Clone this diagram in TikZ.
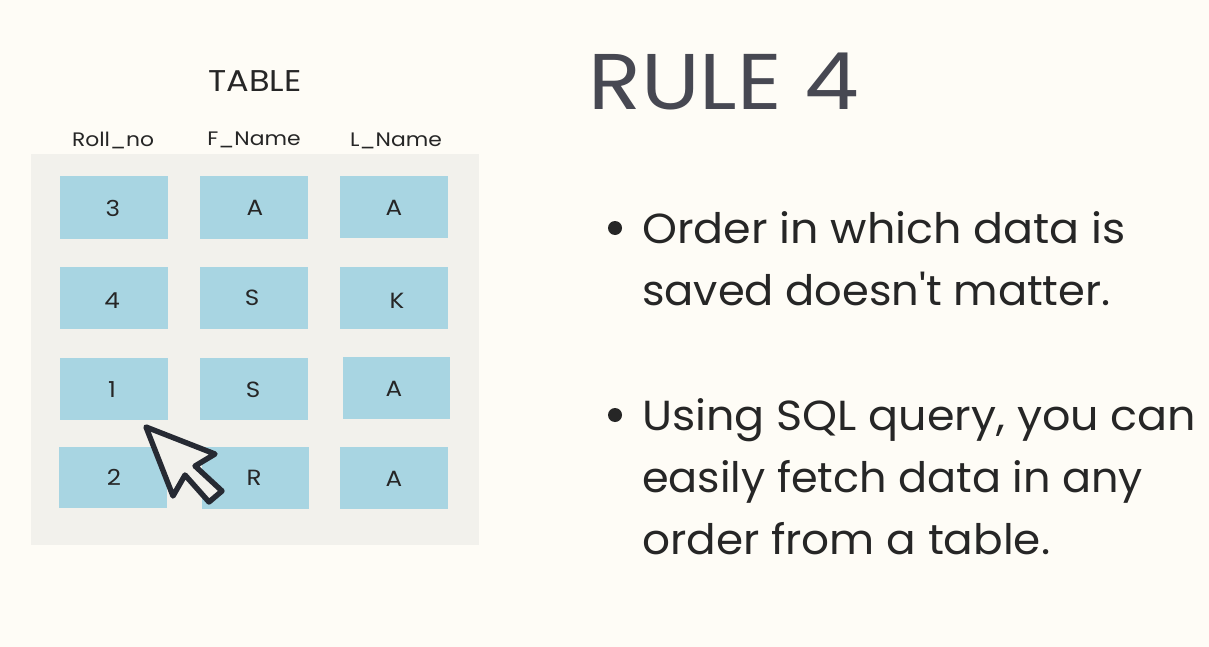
\documentclass[tikz,border=0pt]{standalone}
\usepackage{fontspec}
\setmainfont[Ligatures=TeXOff]{Poppins}
\newfontfamily\titlefont[Ligatures=TeXOff,FakeStretch=1.1]{Poppins}
\newfontfamily\bodyfont[Ligatures=TeXOff,FakeStretch=1.07]{Poppins}
\newfontfamily\headfont[Ligatures=TeXOff,FakeStretch=1.12]{Poppins}
\usetikzlibrary{arrows}
\definecolor{bgcream}{HTML}{FEFCF6}
\definecolor{panelgray}{HTML}{F2F1EC}
\definecolor{cellblue}{HTML}{A8D5E2}
\definecolor{titlegray}{HTML}{474852}
\definecolor{textdark}{HTML}{262626}
\definecolor{pointerdark}{HTML}{262A33}
\tikzset{
cell/.style={fill=cellblue,inner sep=0pt},
celltext/.style={inner sep=0pt,text=textdark,font=\headfont\fontsize{22}{22}\selectfont},
headlabel/.style={inner sep=0pt,text=textdark,font=\headfont\fontsize{19.5}{21}\selectfont},
bulletline/.style={inner sep=0pt,anchor=base west,text=textdark,transform shape,font=\bodyfont\fontsize{42}{43}\selectfont}
}
\begin{document}
\begin{tikzpicture}[line cap=round,line join=round,x=1pt,y=-1pt]
\useasboundingbox (0,0) rectangle (1209,647);
\fill[bgcream] (0,0) rectangle (1209,647);
\fill[panelgray] (31,154) rectangle (479,545);
\node[headlabel,font=\headfont\fontsize{30}{30}\selectfont] (tablehead) at (255,81) {TABLE};
\node[headlabel] (rollhead) at (113,140) {Roll\_no};
\node[headlabel] (fnamehead) at (254,140) {F\_Name};
\node[headlabel] (lnamehead) at (396,141) {L\_Name};
% rows of the table
\foreach \cx/\cy/\w/\h/\tx/\ty/\t/\nm in {114/207.5/108/62/113/208/3/ca,254/207.5/108/62/255/208/A/cb,394/207/108/62/394/208/A/cc,
114/298/108/62/112/301/4/da,254/298/108/62/252/298/S/db,394/298/108/62/397/301/K/dc,
114/389/108/62/112/390/1/ea,253.5/388.5/108/62/253/390/S/eb,396.5/388/107/62/394/389/A/ec,
113/477/108/61/114/477/2/fa,255/478/107/62/254/478/R/fb,394/478/108/62/394/479/A/fc}
{
\node[cell,minimum width=\w,minimum height=\h] (\nm) at (\cx,\cy) {};
\node[celltext] (\nm text) at (\tx,\ty) {\t};
}
% pointer
\draw[fill=panelgray,draw=pointerdark,line width=5.4pt] (146,427) -- (215,454) -- (195,466) -- (222,491) -- (209,502) -- (185,475) -- (173,496) -- cycle;
\fill[textdark] (615,228) circle (7);
\node[bulletline,xscale=.988] (linea) at (642,243) {Order in which data is};
\node[bulletline,xscale=.961] (lineb) at (642,305) {saved doesn't matter.};
\fill[textdark] (615,415) circle (7);
\node[bulletline,xscale=.989] (linec) at (642,430) {Using SQL query, you can};
\node[bulletline,xscale=.956] (lined) at (642,492) {easily fetch data in any};
\node[bulletline,xscale=.974] (linee) at (642,554) {order from a table.};
\node[inner sep=0pt,anchor=base west,text=titlegray,font=\titlefont\fontsize{79}{79}\selectfont] (rule) at (588,110) {RULE 4};
\end{tikzpicture}
\end{document}
